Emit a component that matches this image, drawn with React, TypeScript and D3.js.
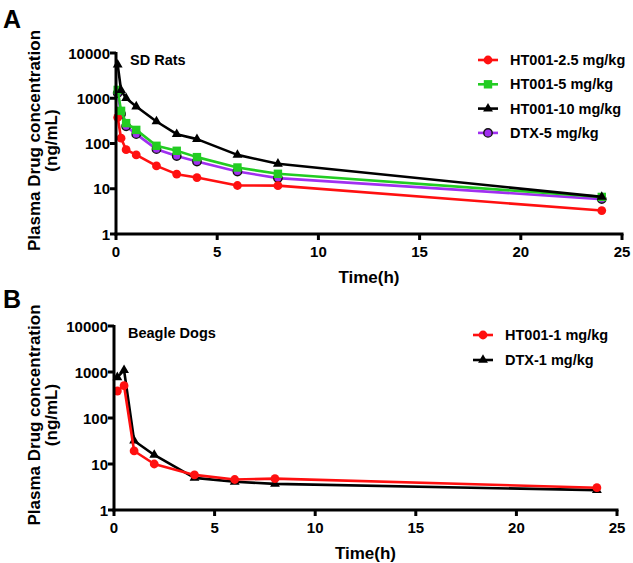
import { useEffect } from "react";
import * as d3 from "d3";

// Panel A: SD rats
const ratTimes = [0.083, 0.25, 0.5, 1, 2, 3, 4, 6, 8, 24];
const ratHT25 = [376, 131, 73, 56, 32, 21, 17.7, 11.8, 11.7, 3.3];
const ratHT5 = [1530, 527, 282, 200, 89, 69, 50, 29.5, 21.4, 6.6];
const ratHT10 = [5500, 1500, 1000, 656, 306, 161, 125, 56, 35.6, 6.6];
const ratDTX5 = [1300, 450, 240, 161, 75, 53, 40, 24, 17.2, 5.9];

// Panel B: beagle dogs
const dogTimes = [0.167, 0.5, 1, 2, 4, 6, 8, 24];
const dogHT1 = [386, 504, 19.2, 10, 5.8, 4.6, 4.8, 3.05];
const dogDTX1 = [767, 1100, 32, 15.7, 5.0, 4.1, 3.7, 2.7];

const xTicks = [0, 5, 10, 15, 20, 25];
const yTicks = [1, 10, 100, 1000, 10000];

type Marker = "circle" | "square" | "triangle";
type Series = { label: string; color: string; marker: Marker; times: number[]; values: number[]; fill?: string };

const ratSeries: Series[] = [
  { label: "DTX-5 mg/kg", color: "#a030f0", marker: "circle", times: ratTimes, values: ratDTX5, fill: "#a030f0" },
  { label: "HT001-2.5 mg/kg", color: "#ff1010", marker: "circle", times: ratTimes, values: ratHT25 },
  { label: "HT001-5 mg/kg", color: "#22cc22", marker: "square", times: ratTimes, values: ratHT5 },
  { label: "HT001-10 mg/kg", color: "#000000", marker: "triangle", times: ratTimes, values: ratHT10 },
];
const ratLegend = ["HT001-2.5 mg/kg", "HT001-5 mg/kg", "HT001-10 mg/kg", "DTX-5 mg/kg"];

const dogSeries: Series[] = [
  { label: "DTX-1 mg/kg", color: "#000000", marker: "triangle", times: dogTimes, values: dogDTX1 },
  { label: "HT001-1 mg/kg", color: "#ff1010", marker: "circle", times: dogTimes, values: dogHT1 },
];
const dogLegend = ["HT001-1 mg/kg", "DTX-1 mg/kg"];

const font = "'Liberation Sans', Arial, sans-serif";

function MarkerShape({ s, x, y }: { s: Series; x: number; y: number }) {
  if (s.marker === "square") {
    return <rect x={x - 4.2} y={y - 4.2} width={8.4} height={8.4} fill={s.color} />;
  }
  if (s.marker === "triangle") {
    const p = d3.symbol(d3.symbolTriangle, 42)();
    return <path d={p ?? ""} transform={`translate(${x},${y})`} fill={s.color} />;
  }
  if (s.fill) {
    return <circle cx={x} cy={y} r={4.2} fill={s.fill} stroke="#111" strokeWidth={1.4} />;
  }
  return <circle cx={x} cy={y} r={4.4} fill={s.color} />;
}

function Panel(props: {
  letter: string;
  letterY: number;
  title: string;
  series: Series[];
  legend: string[];
  x0: number;
  x1: number;
  yTop: number;
  yBottom: number;
  legendX: number;
  legendY: number;
  legendGap: number;
}) {
  const { series, x0, x1, yTop, yBottom } = props;
  const x = d3.scaleLinear().domain([0, 25]).range([x0, x1]);
  const y = d3.scaleLog().domain([1, 10000]).range([yBottom, yTop]);
  const line = d3
    .line<[number, number]>()
    .x((d) => x(d[0]))
    .y((d) => y(d[1]));
  const midY = (yTop + yBottom) / 2 - 3;

  return (
    <g fontFamily={font} fontWeight="bold">
      <text x={3} y={props.letterY} fontSize={25}>
        {props.letter}
      </text>
      <g transform={`translate(40,${midY}) rotate(-90)`}>
        <text textAnchor="middle" fontSize={17}>Plasma Drug concentration</text>
      </g>
      <g transform={`translate(57,${midY}) rotate(-90)`}>
        <text textAnchor="middle" fontSize={17}>(ng/mL)</text>
      </g>

      {series.map((s) => (
        <g key={s.label}>
          <path
            d={line(s.times.map((t, i) => [t, s.values[i]] as [number, number])) ?? ""}
            fill="none"
            stroke={s.color}
            strokeWidth={2.6}
            strokeLinejoin="round"
          />
          {s.times.map((t, i) => (
            <MarkerShape key={i} s={s} x={x(t)} y={y(s.values[i])} />
          ))}
        </g>
      ))}

      {/* axes */}
      <line x1={x0} x2={x0} y1={yTop - 1} y2={yBottom + 1.5} stroke="#000" strokeWidth={3} />
      <line x1={x0 - 1.5} x2={x1 + 1.5} y1={yBottom} y2={yBottom} stroke="#000" strokeWidth={3} />
      {yTicks.map((t) => (
        <g key={t}>
          <line x1={x0 - 6} x2={x0} y1={y(t)} y2={y(t)} stroke="#000" strokeWidth={3} />
          <text x={x0 - 6} y={y(t) + 5.5} textAnchor="end" fontSize={15}>
            {t}
          </text>
        </g>
      ))}
      {xTicks.map((t) => (
        <g key={t}>
          <line x1={x(t)} x2={x(t)} y1={yBottom} y2={yBottom + 6} stroke="#000" strokeWidth={3} />
          <text x={x(t)} y={yBottom + 23} textAnchor="middle" fontSize={15}>
            {t}
          </text>
        </g>
      ))}
      <text x={(x0 + x1) / 2} y={yBottom + 49} textAnchor="middle" fontSize={17}>
        Time(h)
      </text>
      <text x={x0 + 14} y={yTop + 12} fontSize={14.5}>
        {props.title}
      </text>

      {props.legend.map((name, i) => {
        const s = series.find((d) => d.label === name)!;
        const ly = props.legendY + i * props.legendGap;
        return (
          <g key={name}>
            <line
              x1={props.legendX}
              x2={props.legendX + 20}
              y1={ly}
              y2={ly}
              stroke={s.color}
              strokeWidth={2.6}
            />
            <MarkerShape s={s} x={props.legendX + 10} y={ly} />
            <text x={props.legendX + 32} y={ly + 5} fontSize={14.5}>
              {name}
            </text>
          </g>
        );
      })}
    </g>
  );
}

export default function App() {
  useEffect(() => {
    document.body.style.margin = "0";
  }, []);
  return (
    <svg width={633} height={563} style={{ display: "block", background: "#fff" }}>
      <Panel
        letter="A"
        letterY={28}
        title="SD Rats"
        series={ratSeries}
        legend={ratLegend}
        x0={116}
        x1={622}
        yTop={53}
        yBottom={234}
        legendX={478}
        legendY={60}
        legendGap={24.3}
      />
      <Panel
        letter="B"
        letterY={308}
        title="Beagle Dogs"
        series={dogSeries}
        legend={dogLegend}
        x0={114}
        x1={617}
        yTop={326}
        yBottom={510}
        legendX={473}
        legendY={335}
        legendGap={25}
      />
    </svg>
  );
}
